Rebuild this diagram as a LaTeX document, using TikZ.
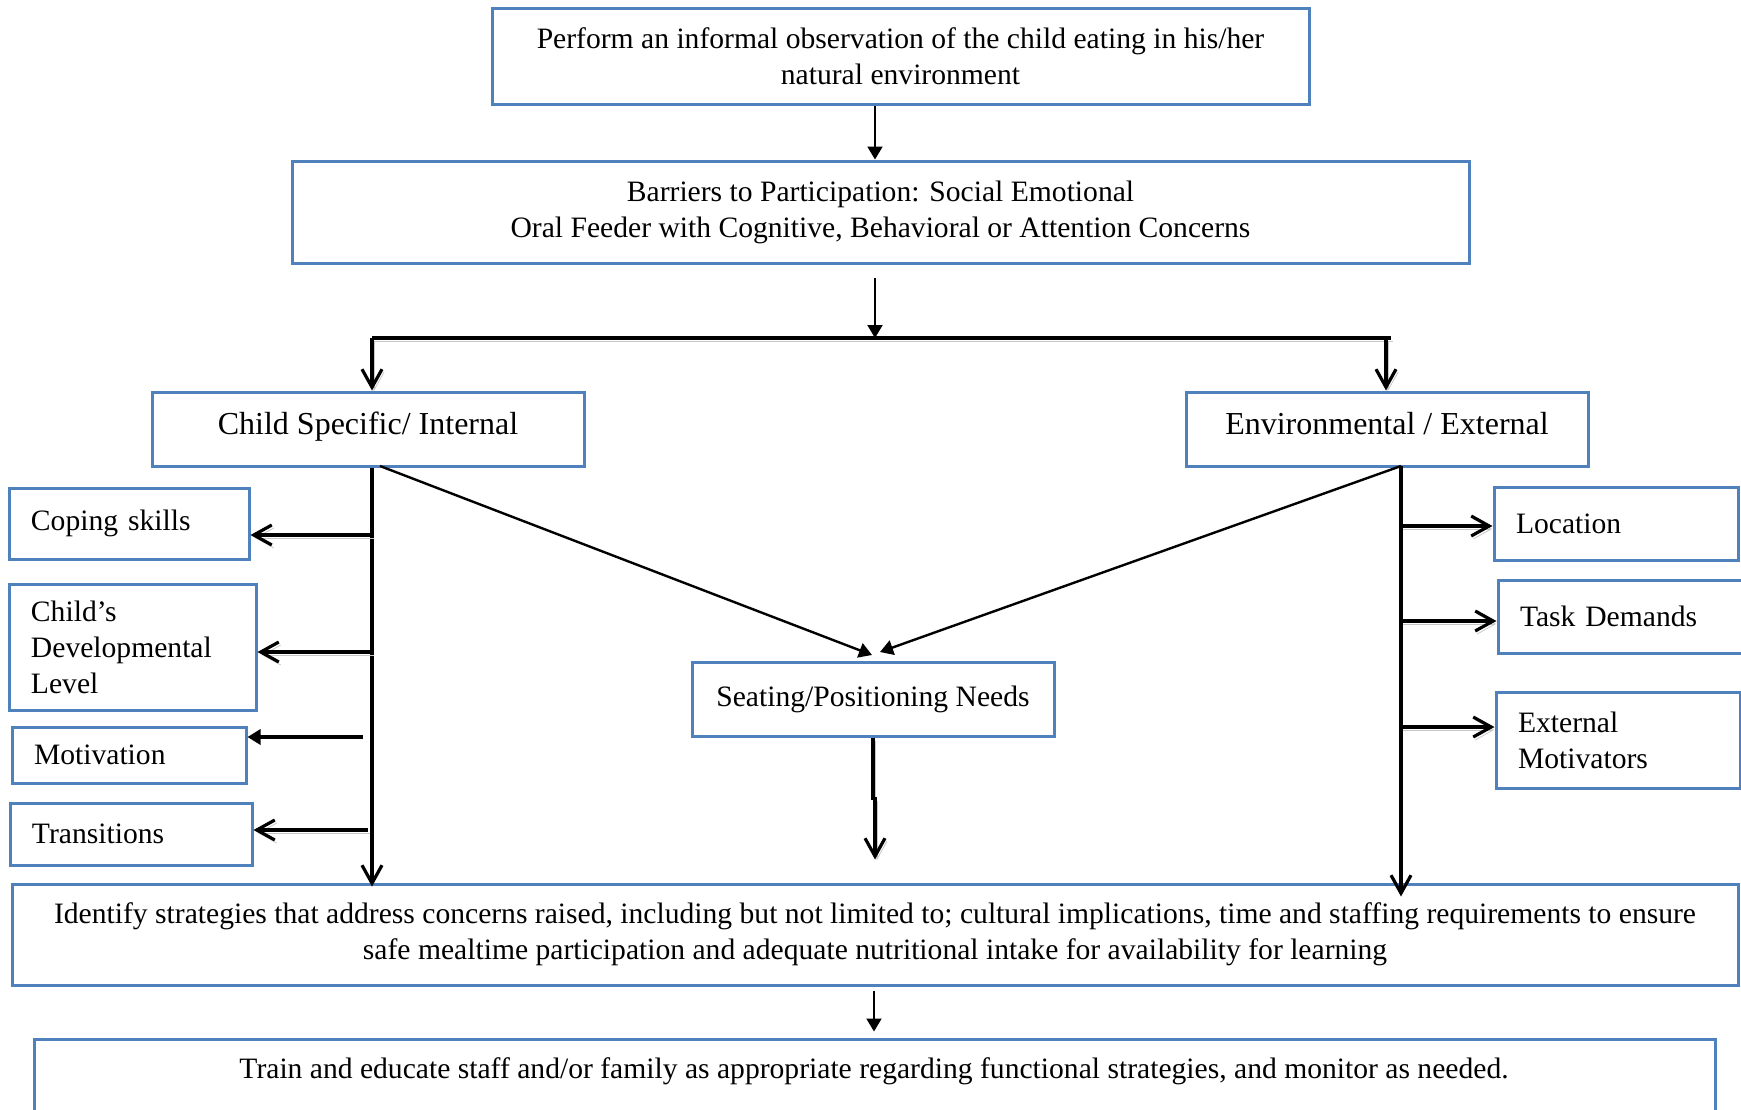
\documentclass[tikz,border=0pt]{standalone}
\usepackage{fontspec}
\setmainfont{Liberation Serif}
\usetikzlibrary{arrows.meta,calc}
\definecolor{boxblue}{HTML}{4F81BD}
\tikzset{
  box/.style={draw=boxblue, line width=1.5pt, inner sep=0pt, align=center,
    font=\fontsize{14.8}{18}\selectfont},
  bigtext/.style={font=\fontsize{16}{18}\selectfont},
  sidebox/.style={box, align=left, text width=#1},
  conn/.style={line width=1.6pt, black},
  thinconn/.style={line width=1pt, black},
  diagconn/.style={line width=1.2pt, black},
  solidtip/.style={-{Triangle[length=6.5pt,width=7.5pt]}},
  opentip/.style={-{Straight Barb[length=9pt,width=10pt]}},
  shadowed/.style={preaction={draw=black!22, transform canvas={shift={(1pt,-1.5pt)}}}}
}
\begin{document}
\begin{tikzpicture}[x=0.5pt,y=-0.5pt]
\useasboundingbox (0,0) rectangle (1741,1109);
\clip (0,0) rectangle (1741,1109);

% boxes
\node[box, minimum width=408.5pt, minimum height=48pt] (obs) at (900.5,56)
  {Perform an informal observation of the child eating in his/her\\natural environment};
\node[box, minimum width=588.5pt, minimum height=51pt] (bar) at (880.5,212)
  {Barriers to Participation: Social Emotional\\Oral Feeder with Cognitive, Behavioral or Attention Concerns};
\node[box, bigtext, minimum width=216pt, minimum height=37pt, text depth=6pt] (child) at (368,429)
  {Child Specific/ Internal};
\node[box, bigtext, minimum width=201pt, minimum height=37pt, text depth=6pt] (env) at (1387,429)
  {Environmental / External};

\node[sidebox=98pt, minimum width=120pt, minimum height=35.5pt] (cope) at (129,523.5)
  {Coping skills};
\node[sidebox=101.5pt, minimum width=123.5pt, minimum height=63pt] (dev) at (132.5,647)
  {Child’s\\Developmental\\Level};
\node[sidebox=95pt, minimum width=117pt, minimum height=28pt] (motiv) at (129,755)
  {Motivation};
\node[sidebox=99pt, minimum width=121pt, minimum height=31pt] (trans) at (131,834)
  {Transitions};

\node[box, minimum width=181pt, minimum height=37pt] (seat) at (873,699)
  {Seating/Positioning Needs};

\node[sidebox=100pt, minimum width=122pt, minimum height=36.5pt] (loc) at (1616,523.5)
  {Location};
\node[sidebox=101.5pt, minimum width=123.5pt, minimum height=36.5pt] (task) at (1621.5,616.5)
  {Task Demands};
\node[sidebox=100pt, minimum width=122pt, minimum height=48pt] (extm) at (1618,740)
  {External\\Motivators};

\node[box, minimum width=863pt, minimum height=50.5pt] (ident) at (875,934.5)
  {Identify strategies that address concerns raised, including but not limited to; cultural implications, time and staffing requirements to ensure\\
   safe mealtime participation and adequate nutritional intake for availability for learning};
\node[box, minimum width=840.5pt, minimum height=55.5pt] (train) at (874.5,1094.5) {};
\node[anchor=base, font=\fontsize{14.8}{18}\selectfont] (traintext) at (874,1078)
  {Train and educate staff and/or family as appropriate regarding functional strategies, and monitor as needed.};

% junction points
\coordinate (ax) at (875,0);
\coordinate (hub) at (875,278);
\coordinate (jl) at (372,338);
\coordinate (jr) at (1391,338);
\coordinate (jd) at (1386,338);
\coordinate (rt) at (1401,466);
\coordinate (dl) at (380,466);
\coordinate (sl) at (872,655);
\coordinate (sr) at (880,652);
\coordinate (b1) at (372,535);
\coordinate (b2) at (372,652);
\coordinate (b3) at (363,737);
\coordinate (b4) at (368,830);
\coordinate (r1) at (1401,526);
\coordinate (r2) at (1401,621);
\coordinate (r3) at (1401,727);
\coordinate (ax2) at (874,0);

% top of the chart
\draw[thinconn, solidtip] (ax |- obs.south) -- (ax |- bar.north);
\draw[thinconn, solidtip] (hub) -- (hub |- jl);
\draw[conn, shadowed] (jl) -- (jr);
\draw[conn, opentip, shadowed] (jl) -- (jl |- child.north);
\draw[conn, opentip, shadowed] (jd) -- (jd |- env.north);

% child specific branch
\draw[conn, opentip] (jl |- child.south) -- ($(jl |- ident.north)+(0,4)$);
\draw[conn, opentip, shadowed] (b1) -- (b1 -| cope.east);
\draw[conn, opentip, shadowed] (b2) -- (b2 -| dev.east);
\draw[conn, solidtip] (b3) -- (b3 -| motiv.east);
\draw[conn, opentip, shadowed] (b4) -- (b4 -| trans.east);

% environmental branch
\draw[conn, opentip] (rt) -- ($(rt |- ident.north)+(0,14)$);
\draw[conn, opentip, shadowed] (r1) -- (r1 -| loc.west);
\draw[conn, opentip, shadowed] (r2) -- (r2 -| task.west);
\draw[conn, opentip, shadowed] (r3) -- (r3 -| extm.west);

% seating
\draw[diagconn, solidtip] (dl) -- (sl);
\draw[diagconn, solidtip] (rt) -- (sr);
\draw[conn, opentip, shadowed] (seat.south) -- ++(0,61) -- ++(2,0) -- ++(0,61);

% final step
\draw[thinconn, solidtip] ($(ax2 |- ident.south)+(0,4)$) -- ($(ax2 |- train.north)+(0,-6)$);
\end{tikzpicture}
\end{document}
